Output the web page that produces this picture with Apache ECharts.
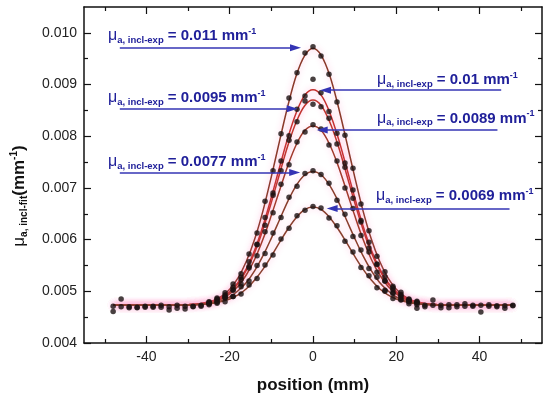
<!DOCTYPE html>
<html><head><meta charset="utf-8">
<script src="https://cdn.jsdelivr.net/npm/echarts@6/dist/echarts.min.js"></script>
<style>html,body{margin:0;padding:0;background:#fff}#c{width:550px;height:399px}</style>
</head><body><div id="c"></div>
<script>
// ---------- DATA ----------
const xMajor = [-40, -20, 0, 20, 40];
const xMinor = [-50, -30, -10, 10, 30, 50];
const yMajor = [0.004, 0.005, 0.006, 0.007, 0.008, 0.009, 0.010];
const yMinor = [0.0045, 0.0055, 0.0065, 0.0075, 0.0085, 0.0095];

// fitted curves
const fitX = [-48,-32,-30,-28,-26,-24,-22,-20,-18,-16,-14,-12,-10,-8,-6,-4,-2,0,2,4,6,8,10,12,14,16,18,20,22,24,26,28,30,32,48];
const fit1 = [0.00473,0.00473,0.00474,0.00475,0.00478,0.00482,0.00490,0.00504,0.00526,0.00558,0.00601,0.00656,0.00722,0.00792,0.00860,0.00918,0.00956,0.00970,0.00956,0.00918,0.00860,0.00792,0.00722,0.00656,0.00601,0.00558,0.00526,0.00504,0.00490,0.00482,0.00478,0.00475,0.00474,0.00473,0.00473];
const fit2 = [0.00473,0.00473,0.00474,0.00475,0.00477,0.00481,0.00488,0.00499,0.00517,0.00544,0.00580,0.00627,0.00682,0.00741,0.00798,0.00846,0.00879,0.00890,0.00879,0.00846,0.00798,0.00741,0.00682,0.00627,0.00580,0.00544,0.00517,0.00499,0.00488,0.00481,0.00477,0.00475,0.00474,0.00473,0.00473];
const fit3 = [0.00473,0.00473,0.00474,0.00475,0.00477,0.00480,0.00487,0.00498,0.00515,0.00541,0.00575,0.00620,0.00672,0.00728,0.00783,0.00828,0.00859,0.00870,0.00859,0.00828,0.00783,0.00728,0.00672,0.00620,0.00575,0.00541,0.00515,0.00498,0.00487,0.00480,0.00477,0.00475,0.00474,0.00473,0.00473];
const fit4 = [0.00473,0.00473,0.00474,0.00475,0.00476,0.00479,0.00485,0.00495,0.00510,0.00532,0.00562,0.00601,0.00647,0.00696,0.00744,0.00784,0.00811,0.00820,0.00811,0.00784,0.00744,0.00696,0.00647,0.00601,0.00562,0.00532,0.00510,0.00495,0.00485,0.00479,0.00476,0.00475,0.00474,0.00473,0.00473];
const fit5 = [0.00473,0.00473,0.00473,0.00474,0.00475,0.00478,0.00482,0.00489,0.00501,0.00517,0.00540,0.00569,0.00603,0.00639,0.00675,0.00705,0.00725,0.00732,0.00725,0.00705,0.00675,0.00639,0.00603,0.00569,0.00540,0.00517,0.00501,0.00489,0.00482,0.00478,0.00475,0.00474,0.00473,0.00473,0.00473];
const fit6 = [0.00473,0.00473,0.00473,0.00474,0.00475,0.00477,0.00480,0.00485,0.00493,0.00505,0.00522,0.00543,0.00568,0.00595,0.00621,0.00643,0.00658,0.00663,0.00658,0.00643,0.00621,0.00595,0.00568,0.00543,0.00522,0.00505,0.00493,0.00485,0.00480,0.00477,0.00475,0.00474,0.00473,0.00473,0.00473];

// measured points (peak region)
const peakX = [-24.96,-23.04,-21.12,-19.2,-17.28,-15.36,-13.44,-11.52,-9.6,-7.68,-5.76,-3.84,-1.92,0,1.92,3.84,5.76,7.68,9.6,11.52,13.44,15.36,17.28,19.2,21.12,23.04,24.96];
const dots1 = [0.00479,0.00487,0.00497,0.00514,0.00534,0.00572,0.00613,0.00674,0.00733,0.00805,0.00874,0.00923,0.00961,0.00973,0.00955,0.00920,0.00866,0.00802,0.00738,0.00669,0.00617,0.00568,0.00538,0.00510,0.00498,0.00484,0.00481];
const dots2 = [0.00477,0.00485,0.00490,0.00508,0.00523,0.00557,0.00590,0.00643,0.00690,0.00752,0.00801,0.00852,0.00878,0.00910,0.00884,0.00848,0.00806,0.00748,0.00696,0.00637,0.00595,0.00552,0.00528,0.00503,0.00494,0.00482,0.00479];
const dots3 = [0.00480,0.00481,0.00493,0.00502,0.00527,0.00548,0.00591,0.00628,0.00686,0.00733,0.00792,0.00828,0.00868,0.00862,0.00857,0.00835,0.00785,0.00740,0.00680,0.00634,0.00584,0.00553,0.00520,0.00507,0.00489,0.00485,0.00477];
const dots4 = [0.00476,0.00484,0.00487,0.00503,0.00514,0.00545,0.00569,0.00615,0.00652,0.00707,0.00745,0.00789,0.00808,0.00822,0.00814,0.00783,0.00752,0.00700,0.00660,0.00608,0.00576,0.00537,0.00520,0.00497,0.00491,0.00480,0.00479];
const dots5 = [0.00477,0.00479,0.00488,0.00490,0.00509,0.00520,0.00550,0.00573,0.00613,0.00643,0.00682,0.00703,0.00728,0.00733,0.00726,0.00709,0.00676,0.00649,0.00606,0.00580,0.00544,0.00527,0.00502,0.00496,0.00483,0.00481,0.00474];
const dots6 = [0.00474,0.00477,0.00480,0.00490,0.00495,0.00512,0.00525,0.00551,0.00570,0.00601,0.00622,0.00646,0.00657,0.00664,0.00661,0.00642,0.00627,0.00597,0.00576,0.00546,0.00530,0.00507,0.00500,0.00486,0.00484,0.00476,0.00467];

// measured points (baseline region, two overlapping rows)
const baseX = [-48,-46.08,-44.16,-42.24,-40.32,-38.4,-36.48,-34.56,-32.64,-30.72,-28.8,-26.88,26.88,28.8,30.72,32.64,34.56,36.48,38.4,40.32,42.24,44.16,46.08,48];
const baseA = [0.00471,0.00470,0.00470,0.00469,0.00471,0.00471,0.00473,0.00470,0.00473,0.00471,0.00471,0.00473,0.00473,0.00473,0.00473,0.00474,0.00474,0.00476,0.00473,0.00473,0.00474,0.00472,0.00472,0.00473];
const baseB = [0.00461,0.00485,0.00468,0.00468,0.00469,0.00469,0.00469,0.00464,0.00467,0.00466,0.00470,0.00471,0.00470,0.00483,0.00468,0.00468,0.00470,0.00471,0.00471,0.00460,0.00471,0.00470,0.00467,0.00472];

// annotations
const annoValues = ['0.011', '0.0095', '0.0077', '0.01', '0.0089', '0.0069'];
const arrowFrom = [[-46.4,0.00971],[-46.4,0.00853],[-46.4,0.00730],[45.2,0.00889],[44.3,0.00812],[47.2,0.00660]];
const arrowTo   = [[-4.2,0.00971],[-5.0,0.00853],[-4.4,0.00730],[3.0,0.00889],[2.2,0.00812],[4.6,0.00660]];

// ---------- LAYOUT / STYLE ----------
const FONT = 'Liberation Sans, Arial, sans-serif';
const textPos = [[108,36],[108,98],[108,162],[377,80],[377,118.5],[376,196]];
const BLUE = '#20209a';
const fits = [fit1, fit2, fit3, fit4, fit5, fit6];
const dots = [dots1, dots2, dots3, dots4, dots5, dots6];
const lineColors = ['#8a3a2a', '#c42f2c', '#c0342e', '#a23a2c', '#8a3e2c', '#8a402e'];

const axLine = {show: true, onZero: false, lineStyle: {color: '#111', width: 1.5}};
function mkAxis(pos, ticks, len, opts) {
  return Object.assign({
    type: 'value', position: pos,
    min: pos === 'left' || pos === 'right' ? 0.004 : -55,
    max: pos === 'left' || pos === 'right' ? 0.0105 : 55,
    axisLine: {show: false, onZero: false},
    axisTick: {show: true, inside: true, length: len, customValues: ticks, lineStyle: {color: '#111', width: 1.2}},
    axisLabel: {show: false},
    splitLine: {show: false}
  }, opts || {});
}

const annoRich = {
  mu: {fontSize: 16, fontFamily: FONT, fill: BLUE, color: BLUE, lineHeight: 18},
  sub: {fontSize: 9.5, fontWeight: 'bold', fontFamily: FONT, fill: BLUE, color: BLUE, lineHeight: 9, verticalAlign: 'bottom'},
  main: {fontSize: 15, fontWeight: 'bold', fontFamily: FONT, fill: BLUE, color: BLUE, lineHeight: 18},
  sup: {fontSize: 9, fontWeight: 'bold', fontFamily: FONT, fill: BLUE, color: BLUE, lineHeight: 9, verticalAlign: 'top'}
};

const graphics = annoValues.map((v, i) => ({
  type: 'text', x: textPos[i][0], y: textPos[i][1], z: 100,
  style: {text: '{mu|μ}{sub|a, incl-exp}{main| = ' + v + ' mm}{sup|-1}', align: 'left', verticalAlign: 'middle', rich: annoRich}
}));
graphics.push({
  type: 'text', x: 19, y: 196, rotation: Math.PI / 2, z: 100,
  style: {
    text: '{mu|μ}{sub|a, incl-fit}{main|(mm}{sup|-1}{main|)}', align: 'center', verticalAlign: 'middle',
    rich: {
      mu: {fontSize: 17, fontFamily: FONT, fill: '#111', lineHeight: 20},
      sub: {fontSize: 10, fontWeight: 'bold', fontFamily: FONT, fill: '#111', lineHeight: 10, verticalAlign: 'bottom'},
      main: {fontSize: 17, fontWeight: 'bold', fontFamily: FONT, fill: '#111', lineHeight: 20},
      sup: {fontSize: 10, fontWeight: 'bold', fontFamily: FONT, fill: '#111', lineHeight: 10, verticalAlign: 'top'}
    }
  }
});

const series = [];
fits.forEach((f, i) => {
  series.push({
    type: 'line', xAxisIndex: 0, yAxisIndex: 0, smooth: 0.35, showSymbol: false, z: 2,
    data: fitX.map((x, j) => [x, f[j]]),
    lineStyle: {color: lineColors[i], width: 1.5, shadowBlur: 6, shadowColor: 'rgba(255,90,170,0.45)'},
    markLine: i === 0 ? {
      silent: true, symbol: ['none', 'triangle'], symbolSize: [7, 11], animation: false,
      lineStyle: {color: '#3434b4', width: 1.5, type: 'solid', shadowBlur: 0},
      itemStyle: {color: '#2a2ab0'},
      label: {show: false},
      data: arrowFrom.map((p, k) => [{coord: p}, {coord: arrowTo[k]}])
    } : undefined
  });
});
dots.forEach((d) => {
  series.push({
    type: 'scatter', xAxisIndex: 0, yAxisIndex: 0, symbolSize: 5.5, z: 3,
    itemStyle: {color: '#1a1212'},
    data: peakX.map((x, j) => [x, d[j]])
  });
});
[baseA, baseB].forEach((b) => {
  series.push({
    type: 'scatter', xAxisIndex: 0, yAxisIndex: 0, symbolSize: 5.5, z: 3,
    itemStyle: {color: '#1a1212'},
    data: baseX.map((x, j) => [x, b[j]])
  });
});

const chart = echarts.init(document.getElementById('c'), null, {renderer: 'canvas'});
chart.setOption({
  animation: false,
  backgroundColor: '#fff',
  grid: {left: 84, right: 8, top: 7, bottom: 56, containLabel: false},
  xAxis: [
    mkAxis('bottom', xMajor, 7, {
      axisLine: axLine,
      axisLabel: {show: true, customValues: xMajor, fontSize: 14, fontFamily: FONT, color: '#222', margin: 7},
      name: 'position (mm)', nameLocation: 'middle', nameGap: 34,
      nameTextStyle: {fontSize: 17, fontWeight: 'bold', fontFamily: FONT, color: '#111'}
    }),
    mkAxis('bottom', xMinor, 4),
    mkAxis('top', xMajor, 7, {axisLine: axLine}),
    mkAxis('top', xMinor, 4)
  ],
  yAxis: [
    mkAxis('left', yMajor, 7, {
      axisLine: axLine,
      axisLabel: {show: true, customValues: yMajor, fontSize: 14, fontFamily: FONT, color: '#222', margin: 7,
        formatter: (v) => Number(v).toFixed(3)}
    }),
    mkAxis('left', yMinor, 4),
    mkAxis('right', yMajor, 7, {axisLine: axLine}),
    mkAxis('right', yMinor, 4)
  ],
  graphic: graphics,
  series: series
});
</script>
</body></html>
